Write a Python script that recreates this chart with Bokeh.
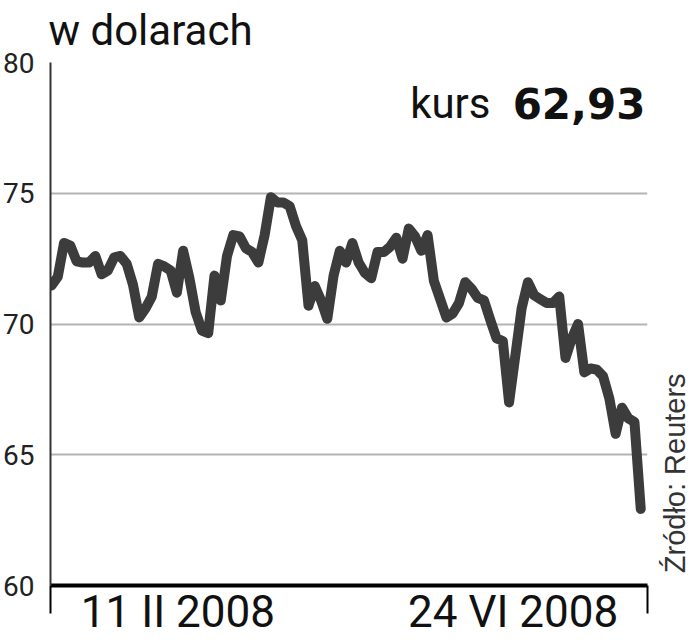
import math
from bokeh.plotting import figure
from bokeh.layouts import row
from bokeh.models import FixedTicker, Label, Range1d, ColumnDataSource, Title
from bokeh.embed import file_html
from bokeh.resources import INLINE

# Daily closing prices (USD), 11 II 2008 .. 24 VI 2008
values = [
    71.47, 71.80, 73.10, 73.00, 72.40, 72.35, 72.35, 72.60, 71.90, 72.05,
    72.55, 72.60, 72.30, 71.50, 70.25, 70.60, 71.05, 72.30, 72.20, 72.05,
    71.20, 72.80, 71.75, 70.45, 69.75, 69.65, 71.85, 70.90, 72.60, 73.40,
    73.35, 72.90, 72.75, 72.35, 73.40, 74.85, 74.65, 74.65, 74.50, 73.75,
    73.20, 70.70, 71.45, 70.90, 70.20, 71.85, 72.80, 72.35, 73.10, 72.35,
    71.95, 71.75, 72.75, 72.75, 72.95, 73.30, 72.50, 73.65, 73.35, 72.80,
    73.40, 71.65, 70.95, 70.25, 70.40, 70.80, 71.60, 71.35, 71.00, 70.90,
    70.15, 69.45, 69.35, 67.00, 68.80, 70.60, 71.60, 71.10, 70.95, 70.80,
    70.80, 71.05, 68.70, 69.45, 70.00, 68.15, 68.30, 68.25, 68.00, 67.15,
    65.80, 66.80, 66.40, 66.25, 62.93,
]
day_index = list(range(len(values)))

y_ticks = [60, 65, 70, 75, 80]
x_tick_labels = ["11 II 2008", "24 VI 2008"]
x_tick_positions = [20.16, 73.65]

title_text = "w dolarach"
kurs_text = "kurs"
last_text = f"{values[-1]:.2f}".replace(".", ",")
source_text = "Źródło: Reuters"

FONT = "Roboto"
LINE_COLOR = "#3c3c3c"
TEXT_COLOR = "#111111"

x_start, x_end = -0.16, 95.08
y_start, y_end = 60, 80

W_MAIN, W_SIDE, H = 655, 38, 640

p = figure(
    width=W_MAIN,
    height=H,
    x_range=Range1d(x_start, x_end),
    y_range=Range1d(y_start, y_end),
    output_backend="svg",
    toolbar_location=None,
    min_border_left=47,
    min_border_right=8,
    min_border_top=62,
    min_border_bottom=55,
)
p.outline_line_color = None
p.background_fill_color = "white"
p.border_fill_color = "white"

# title
p.title = Title(text=title_text, align="left", vertical_align="top",
                text_font=FONT, text_font_size="42px", text_font_style="normal",
                text_color=TEXT_COLOR, standoff=11, offset=-2)

# grid
p.xgrid.grid_line_color = None
p.ygrid.ticker = FixedTicker(ticks=y_ticks)
p.ygrid.grid_line_color = "#b4b4b4"
p.ygrid.grid_line_width = 2

# y axis
p.yaxis.ticker = FixedTicker(ticks=y_ticks)
p.yaxis.axis_line_color = "#333333"
p.yaxis.axis_line_width = 2
p.yaxis.major_tick_line_color = None
p.yaxis.minor_tick_line_color = None
p.yaxis.major_label_text_font = FONT
p.yaxis.major_label_text_font_size = "28px"
p.yaxis.major_label_text_color = "#222222"
p.yaxis.major_label_standoff = 10

# x axis (brackets at both ends drawn as outward minor ticks)
eps = 0.02
p.xaxis.ticker = FixedTicker(ticks=x_tick_positions, minor_ticks=[x_start + eps, x_end - eps])
p.xaxis.major_label_overrides = {pos: lab for pos, lab in zip(x_tick_positions, x_tick_labels)}
p.xaxis.axis_line_color = "black"
p.xaxis.axis_line_width = 4
p.xaxis.major_tick_line_color = None
p.xaxis.minor_tick_line_color = "black"
p.xaxis.minor_tick_line_width = 2
p.xaxis.minor_tick_in = 0
p.xaxis.minor_tick_out = 28
p.xaxis.major_label_text_font = FONT
p.xaxis.major_label_text_font_size = "44px"
p.xaxis.major_label_text_line_height = 0.9
p.xaxis.major_label_text_color = TEXT_COLOR
p.xaxis.major_label_standoff = -28

src = ColumnDataSource(data=dict(x=day_index, y=values))
p.line("x", "y", source=src, line_color=LINE_COLOR, line_width=10,
       line_join="round", line_cap="round")

p.add_layout(Label(x=x_end, y=y_end, x_offset=-157, y_offset=-41, text=kurs_text,
                   text_font=FONT, text_font_size="42px", text_color=TEXT_COLOR,
                   text_align="right", text_baseline="alphabetic"))
p.add_layout(Label(x=x_end, y=y_end, x_offset=-2, y_offset=-41, text=last_text,
                   text_font="DejaVu Sans", text_font_style="bold", text_font_size="42px",
                   text_color=TEXT_COLOR, text_align="right", text_baseline="alphabetic"))

# narrow side panel carrying the source note, reading upwards
side = figure(
    width=W_SIDE, height=H,
    x_range=Range1d(0, W_SIDE), y_range=Range1d(0, H),
    output_backend="svg", toolbar_location=None,
    x_axis_location=None, y_axis_location=None,
    min_border=0, min_border_left=0, min_border_right=0,
    min_border_top=0, min_border_bottom=0,
)
side.outline_line_color = None
side.grid.visible = False
side.background_fill_color = "white"
side.border_fill_color = "white"
side.add_layout(Label(x=19, y=15, angle=math.pi / 2, text=source_text,
                      text_font="Liberation Sans", text_font_size="29px",
                      text_color="#333333", text_align="left", text_baseline="middle"))

layout = row(p, side, spacing=0)
open("out.html", "w").write(file_html(layout, INLINE))
